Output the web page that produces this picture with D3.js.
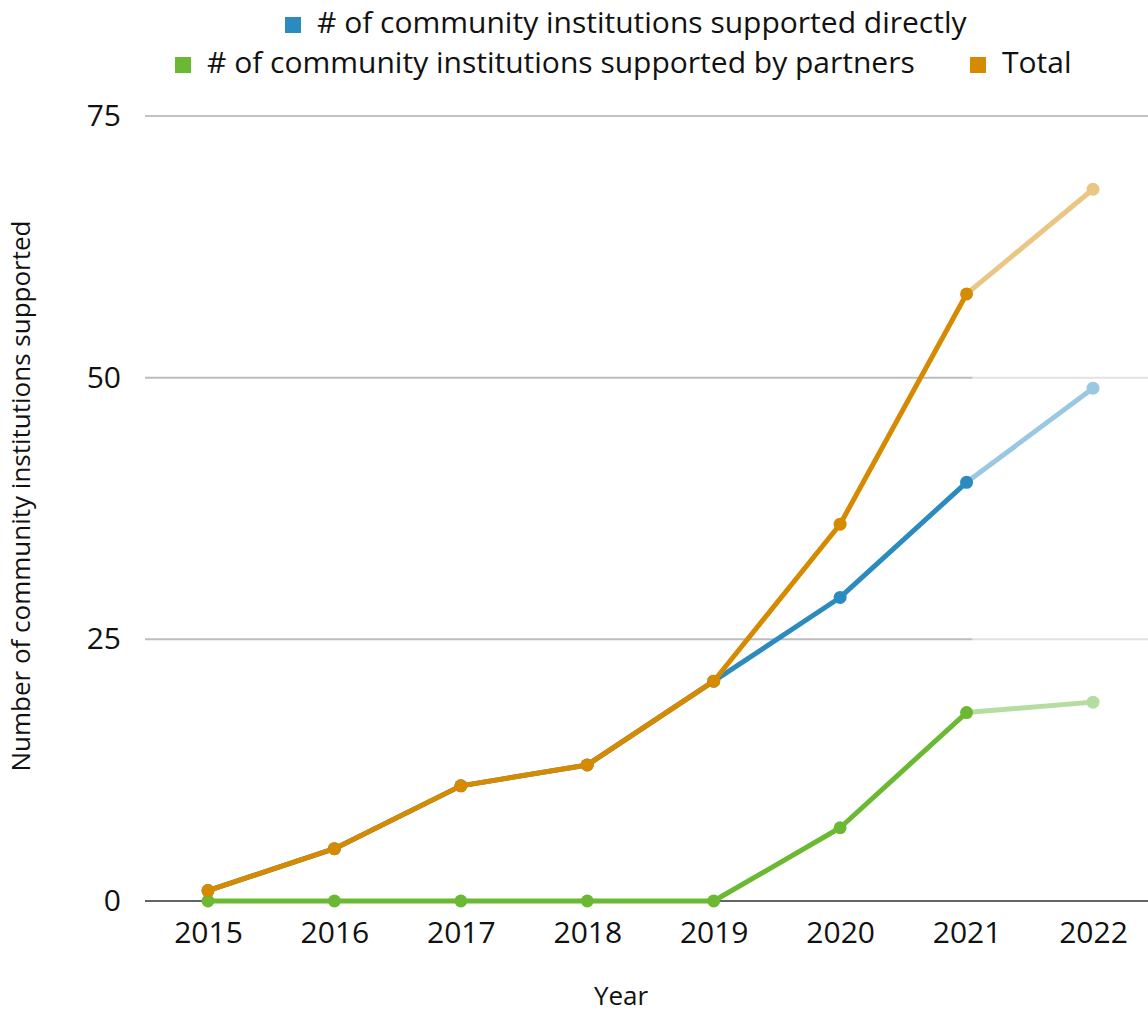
<!DOCTYPE html>
<html>
<head>
<meta charset="utf-8">
<script src="https://cdn.jsdelivr.net/npm/d3@7"></script>
<style>
  body { margin: 0; background: #fff; }
  text { font-family: "Open Sans", sans-serif; fill: #111; }
</style>
</head>
<body>
<div id="wrapper"></div>
<script>
const years = ["2015", "2016", "2017", "2018", "2019", "2020", "2021", "2022"]
const direct = [1, 5, 11, 13, 21, 29, 40, 49]
const partners = [0, 0, 0, 0, 0, 7, 18, 19]
const total = [1, 5, 11, 13, 21, 36, 58, 68]
const yTicks = [0, 25, 50, 75]
const seriesNames = [
  "# of community institutions supported directly",
  "# of community institutions supported by partners",
  "Total"
]

function drawChart(){
  let dimensions = {
    width: 1148,
    height: 1013,
    margin: { top: 116, right: 0, bottom: 112, left: 145 },
  }
  dimensions.boundedWidth = dimensions.width - dimensions.margin.left - dimensions.margin.right
  dimensions.boundedHeight = dimensions.height - dimensions.margin.top - dimensions.margin.bottom

  const wrapper = d3.select("#wrapper")
    .append("svg")
      .attr("width", dimensions.width)
      .attr("height", dimensions.height)

  const bounds = wrapper.append("g")
      .attr("transform", `translate(${dimensions.margin.left},${dimensions.margin.top})`)

  const xScale = d3.scalePoint()
    .domain(years)
    .range([63, 948])

  const yScale = d3.scaleLinear()
    .domain([0, 75])
    .range([dimensions.boundedHeight, 0])

  // gridlines: darker up to 2021, lighter for projected part
  const splitX = xScale("2021") + 6
  const grid = bounds.append("g")
  grid.selectAll(".grid-a")
    .data(yTicks.filter(d => d > 0 && d < 75))
    .enter().append("line")
      .attr("x1", 0).attr("x2", splitX)
      .attr("y1", d => yScale(d)).attr("y2", d => yScale(d))
      .attr("stroke", "#bcbcbc").attr("stroke-width", 2)
  grid.selectAll(".grid-b")
    .data(yTicks.filter(d => d > 0 && d < 75))
    .enter().append("line")
      .attr("x1", splitX).attr("x2", dimensions.boundedWidth)
      .attr("y1", d => yScale(d)).attr("y2", d => yScale(d))
      .attr("stroke", "#e2e2e2").attr("stroke-width", 2)
  grid.append("line")
      .attr("x1", 0).attr("x2", dimensions.boundedWidth)
      .attr("y1", yScale(75)).attr("y2", yScale(75))
      .attr("stroke", "#c2c2c2").attr("stroke-width", 2)

  // x axis
  const xAxis = bounds.append("g")
      .attr("transform", `translate(0,${dimensions.boundedHeight})`)
      .call(d3.axisBottom(xScale).tickSize(0).tickPadding(21))
  xAxis.select(".domain").remove()
  xAxis.append("line")
      .attr("x1", 0).attr("x2", dimensions.boundedWidth)
      .attr("stroke", "#646464").attr("stroke-width", 2)
  xAxis.selectAll(".tick text")
      .style("font-size", "30px").attr("fill", "#111")

  // y axis
  const yAxis = bounds.append("g")
      .call(d3.axisLeft(yScale).tickValues(yTicks).tickSize(0).tickPadding(24))
  yAxis.select(".domain").remove()
  yAxis.selectAll(".tick text")
      .style("font-size", "30px").attr("fill", "#111")

  const series = [
    { values: direct, color: "#2b8bbe", light: "#9ac8e1" },
    { values: partners, color: "#6bb932", light: "#b6dda0" },
    { values: total, color: "#d68a00", light: "#e9c683" },
  ]

  const lineGen = d3.line()
    .x(d => xScale(d.year))
    .y(d => yScale(d.value))

  series.forEach(s => {
    const pts = years.map((y, i) => ({ year: y, value: s.values[i] }))
    const g = bounds.append("g")
    g.append("path")
      .datum(pts.slice(6))
      .attr("d", lineGen)
      .attr("fill", "none")
      .attr("stroke", s.light)
      .attr("stroke-width", 5)
    g.append("path")
      .datum(pts.slice(0, 7))
      .attr("d", lineGen)
      .attr("fill", "none")
      .attr("stroke", s.color)
      .attr("stroke-width", 5)
      .attr("stroke-linejoin", "round")
    g.selectAll("circle")
      .data(pts)
      .enter().append("circle")
        .attr("cx", d => xScale(d.year))
        .attr("cy", d => yScale(d.value))
        .attr("r", 6.5)
        .attr("fill", (d, i) => i === 7 ? s.light : s.color)
  })

  // axis titles
  wrapper.append("text")
      .attr("x", dimensions.margin.left + 476)
      .attr("y", 1005)
      .attr("text-anchor", "middle")
      .style("font-size", "26px")
      .text("Year")

  wrapper.append("text")
      .attr("transform", `translate(30,${dimensions.margin.top + 380}) rotate(-90)`)
      .attr("text-anchor", "middle")
      .style("font-size", "26px")
      .text("Number of community institutions supported")

  // legend
  const legendItems = [
    { name: seriesNames[0], color: series[0].color, x: 285, y: 33 },
    { name: seriesNames[1], color: series[1].color, x: 175, y: 73 },
    { name: seriesNames[2], color: series[2].color, x: 970, y: 73 },
  ]
  const legend = wrapper.append("g")
  const item = legend.selectAll("g")
    .data(legendItems)
    .enter().append("g")
      .attr("transform", d => `translate(${d.x},${d.y})`)
  item.append("rect")
      .attr("x", 0).attr("y", -16)
      .attr("width", 16).attr("height", 16)
      .attr("fill", d => d.color)
  item.append("text")
      .attr("x", 32).attr("y", 0)
      .style("font-size", "30px")
      .text(d => d.name)
}

drawChart()
</script>
</body>
</html>
